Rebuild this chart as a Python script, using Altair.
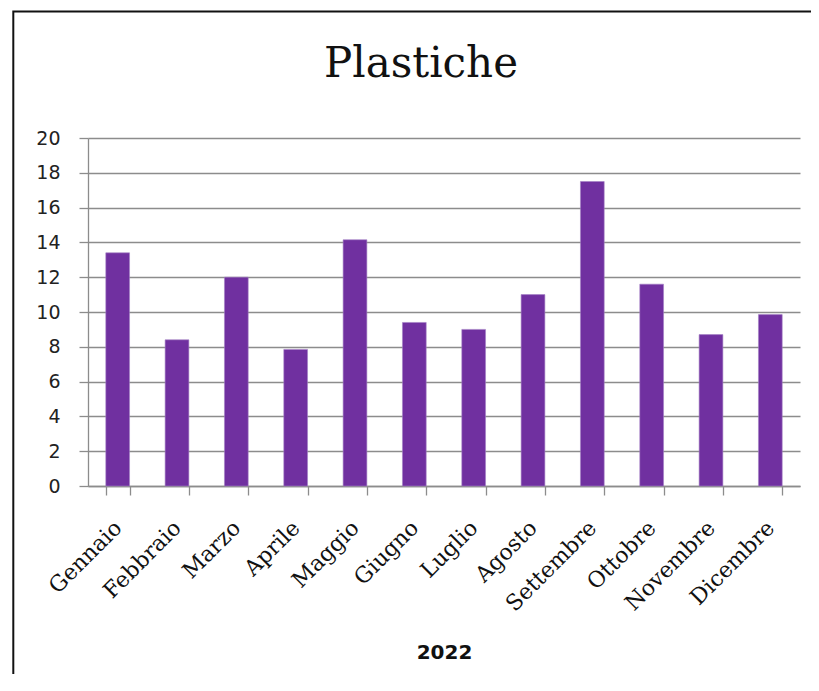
import altair as alt
import pandas as pd

months = ["Gennaio", "Febbraio", "Marzo", "Aprile", "Maggio", "Giugno",
          "Luglio", "Agosto", "Settembre", "Ottobre", "Novembre", "Dicembre"]
values = [13.4, 8.4, 12.0, 7.85, 14.15, 9.4, 9.0, 11.0, 17.5, 11.6, 8.7, 9.85]
y_ticks = [0, 2, 4, 6, 8, 10, 12, 14, 16, 18, 20]
chart_title = "Plastiche"
x_title = "2022"

W, H = 712, 348
GRAY = "#8c8c8c"

df = pd.DataFrame({"mese": months, "valore": values})

bars = alt.Chart(df).mark_bar(color="#7030A0", stroke="#a27fc4", strokeWidth=0.6).encode(
    x=alt.X(
        "mese:N", sort=months, title=x_title,
        scale=alt.Scale(paddingInner=0.6, paddingOuter=0.3),
        axis=alt.Axis(
            tickBand="extent", ticks=True, tickSize=9, tickColor=GRAY, tickWidth=1.3,
            domainColor=GRAY, domainWidth=1.3, grid=False,
            labelAngle=-45, labelAlign="right", labelBaseline="middle",
            labelFont="DejaVu Serif", labelFontSize=22, labelColor="#111111",
            labelPadding=29,
            titleFont="DejaVu Sans", titleFontWeight="bold", titleFontSize=20,
            titleColor="#111111", titlePadding=28,
        ),
    ),
    y=alt.Y(
        "valore:Q", title=None,
        scale=alt.Scale(domain=[0, 20], nice=False),
        axis=alt.Axis(
            values=y_ticks, grid=True, gridColor=GRAY, gridWidth=1.3,
            tickSize=9, tickColor=GRAY, tickWidth=1.3,
            domainColor=GRAY, domainWidth=1.3,
            labelFont="DejaVu Sans", labelFontSize=19, labelColor="#222222",
            labelPadding=19,
        ),
    ),
)

frame = alt.Chart(pd.DataFrame({"k": [0]})).mark_rect(
    fillOpacity=0, stroke="#111111", strokeWidth=2
).encode(
    x=alt.value(-74.7), y=alt.value(-126.5),
    x2=alt.value(W + 300), y2=alt.value(H + 400),
)

chart = alt.layer(frame, bars).properties(
    width=W, height=H,
    autosize=alt.AutoSizeParams(type="none"),
    padding={"left": 80, "top": 130, "right": 11, "bottom": 188},
    title=alt.TitleParams(
        chart_title, font="DejaVu Serif", fontSize=42, fontWeight="normal",
        color="#111111", anchor="middle", frame="group", dx=-23,
        baseline="alphabetic", offset=-108,
    ),
).configure_view(stroke="transparent")

chart.save("out.html", embed_options={"renderer": "svg", "actions": False})
